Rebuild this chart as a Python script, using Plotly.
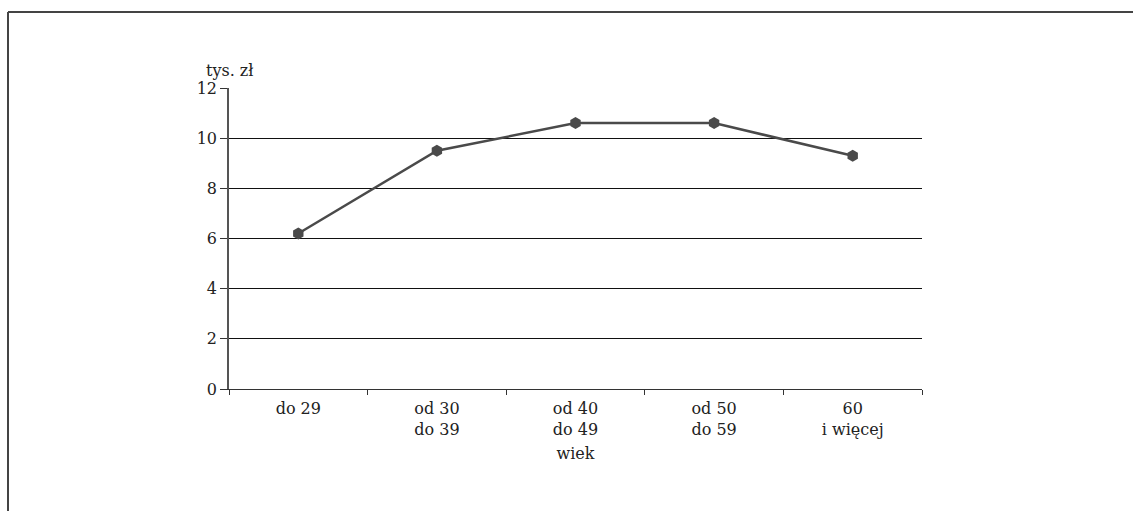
import plotly.graph_objects as go

categories = ["do 29", "od 30<br>do 39", "od 40<br>do 49", "od 50<br>do 59", "60<br>i więcej"]
values = [6.2, 9.5, 10.6, 10.6, 9.3]
y_ticks = [0, 2, 4, 6, 8, 10, 12]

FONT = "DejaVu Serif"
FS = 16
L, R, T, B = 229, 922, 88, 389
W, H = 1133, 511

fig = go.Figure()
fig.add_trace(go.Scatter(
    x=categories, y=values, mode="lines+markers",
    line=dict(color="#4a4a4a", width=2.5),
    marker=dict(symbol="hexagon", size=12, color="#4a4a4a"),
    showlegend=False, cliponaxis=False,
))

fig.update_layout(
    width=W, height=H,
    margin=dict(l=L, r=W - R, t=T, b=H - B),
    paper_bgcolor="white", plot_bgcolor="white",
    font=dict(family=FONT, size=FS, color="#222"),
    xaxis=dict(
        type="category", tickson="boundaries", ticks="outside", ticklen=5,
        tickcolor="#333", showgrid=False, showline=True, linecolor="#333",
        linewidth=1, range=[-0.5, 4.5], ticklabelstandoff=5,
        title=dict(text="wiek", standoff=9, font=dict(family=FONT, size=FS)),
        tickfont=dict(family=FONT, size=FS),
    ),
    yaxis=dict(
        range=[0, 12], tickvals=y_ticks, ticks="outside", ticklen=7,
        tickcolor="#333", showgrid=True, gridcolor="#111", gridwidth=1,
        showline=True, linecolor="#555", linewidth=1.5, zeroline=False,
        tickfont=dict(family=FONT, size=FS),
    ),
    annotations=[dict(
        text="tys. zł", xref="paper", yref="paper",
        x=(204 - L) / (R - L), y=(B - 70) / (B - T),
        xanchor="left", yanchor="middle", showarrow=False,
        font=dict(family=FONT, size=FS, color="#222"),
    )],
    shapes=[
        dict(type="line", xref="paper", yref="paper", layer="above",
             x0=(8 - L) / (R - L), x1=1.5,
             y0=(B - 12) / (B - T), y1=(B - 12) / (B - T),
             line=dict(color="#444", width=2)),
        dict(type="line", xref="paper", yref="paper", layer="above",
             x0=(8 - L) / (R - L), x1=(8 - L) / (R - L),
             y0=(B - 12) / (B - T), y1=-1,
             line=dict(color="#444", width=2)),
    ],
)

fig.write_html("out.html")
